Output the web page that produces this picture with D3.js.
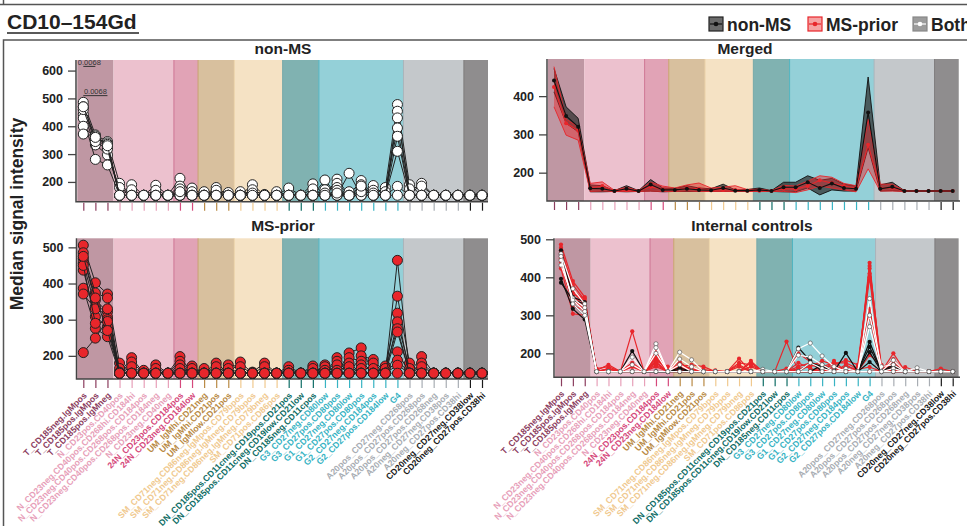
<!DOCTYPE html>
<html><head><meta charset="utf-8">
<script src="https://cdn.jsdelivr.net/npm/d3@7"></script>
<style>body{margin:0;background:#fff;} svg{display:block;font-family:"Liberation Sans",Arial,sans-serif;}</style>
</head><body><svg id="c" width="967" height="526"></svg>
<script>
// ---------------- DATA ----------------
const categories = [
 "T_CD185neg.IgMpos","T_CD185pos.IgMpos","T_CD185pos.IgMneg",
 "N_CD23pos.CD40pos","N_CD23neg.CD40pos.CD268hi.CD184hi","N_CD23neg.CD40pos.CD268pos.CD184pos","N_CD23neg.CD40pos.CD268pos.CD184neg","N_CD23neg.CD40neg",
 "24N_CD23pos.CD184pos","24N_CD23neg.CD184low",
 "UM_IgMhi.CD21neg","UM_IgMhi.CD21pos","UM_IgMlow.CD21pos",
 "SM_CD71neg.CD86neg.IgMpos.CD79bpos","SM_CD71neg.CD86neg.IgMneg.CD79bpos","SM_CD71neg.CD86neg.IgMneg.CD79bneg","SM_CD71pos.CD86pos",
 "DN_CD185pos.CD11cneg.CD19pos.CD21pos","DN_CD185pos.CD11cneg.CD19low.CD21low","DN_CD185neg.CD11cpos",
 "G3_CD27neg.CD80low","G3_CD27pos.CD80pos","G1_CD27neg.CD80low","G1_CD27pos.CD80pos","G2_CD27neg.CD184pos","G2_CD27pos.CD184low","G4",
 "A20pos_CD27neg.CD268pos","A20pos_CD27pos.CD268pos","A20pos_CD27pos.CD268neg","A20neg_CD27neg.CD38pos","A20neg_CD27pos.CD38hi",
 "CD20neg_CD27neg.CD38low","CD20neg_CD27pos.CD38hi"];
const groupNames = ["T","N","24N","UM","SM","DN","G","A20","CD20neg"];
const groupSizes = [3,5,2,3,4,3,7,5,2];

const nonMSSamples = [
 [486,369,345,195,152,152,152,152,213,152,165,152,152,165,152,152,152,178,152,193,152,210,152,205,152,180,478,190,152,152,152,152,152,152],
 [470,352,327,152,190,152,152,152,152,178,152,180,152,152,152,155,165,152,152,152,207,152,231,152,187,152,454,152,195,152,152,152,152,152],
 [443,333,297,180,152,152,188,152,185,152,152,152,162,152,190,152,152,152,152,175,152,195,152,175,152,152,430,175,185,152,152,152,152,152],
 [429,281,261,152,172,152,152,152,152,165,152,152,152,152,152,152,152,152,152,152,172,180,152,152,170,165,394,152,152,152,152,152,152,152],
 [400,358,340,152,152,152,170,152,175,152,152,170,152,152,172,152,152,152,152,152,152,152,165,190,152,152,364,152,152,152,152,152,152,152],
 [372,365,335,152,152,152,152,152,152,152,152,152,152,152,152,152,152,152,152,152,152,170,152,152,152,152,310,152,152,152,152,152,152,152],
 [460,345,318,152,152,152,152,152,152,152,152,152,152,152,160,152,152,152,152,152,160,152,152,165,160,152,184,152,152,152,152,152,152,152],
 [470,360,330,152,152,152,152,152,165,152,152,152,152,152,152,152,152,152,152,152,152,160,152,185,152,152,152,152,152,152,152,152,152,152]];

const msPriorSamples = [
 [506,402,371,180,152,152,175,152,198,152,165,152,152,183,152,152,152,170,152,152,175,152,208,222,152,152,464,152,198,152,152,152,152,152],
 [485,374,360,152,195,152,152,152,152,172,152,180,152,152,155,180,152,152,152,172,152,195,152,200,190,152,365,180,152,152,152,152,152,152],
 [469,354,322,165,152,160,152,152,185,152,152,152,175,170,152,152,152,160,152,152,170,152,195,185,152,172,318,152,180,152,152,152,152,152],
 [456,336,308,152,183,152,165,152,152,165,152,170,152,152,152,170,152,152,152,165,152,185,152,175,180,152,294,165,152,152,152,152,152,152],
 [437,308,281,155,152,152,152,152,175,152,152,152,165,152,152,152,152,152,152,152,160,152,180,152,152,165,275,152,170,152,152,152,152,152],
 [387,276,253,152,170,152,152,152,165,152,152,152,152,152,152,152,152,152,152,152,152,175,152,165,165,152,266,152,152,152,152,152,152,152],
 [371,330,330,152,152,152,152,152,152,152,152,152,152,152,152,152,152,152,152,152,152,160,170,152,152,152,211,152,152,152,152,152,152,152],
 [209,249,300,152,152,152,152,152,152,152,152,152,152,152,152,152,152,152,152,152,152,152,152,152,152,152,188,152,152,152,152,152,152,152],
 [450,290,295,152,152,152,152,152,152,152,152,152,152,152,152,152,152,152,152,152,152,152,152,152,152,152,174,152,152,152,152,152,152,152],
 [475,360,270,152,152,152,152,152,152,152,152,152,152,152,152,152,152,152,152,152,152,152,152,152,152,152,152,152,152,152,152,152,152,152]];

const mergedNonMSMean = [441,348,320,159,158,152,158,152,169,155,155,158,155,154,160,153,153,155,152,162,162,175,160,172,160,158,357,158,163,152,152,152,152,152];
const mergedNonMSLow  = [411,329,307,150,150,151,150,151,152,150,151,151,151,151,151,151,151,151,151,150,150,160,142,155,152,152,265,152,153,151,151,151,151,151];
const mergedNonMSHigh = [472,372,342,168,166,153,166,153,182,160,159,166,160,158,170,155,156,160,153,175,175,192,180,185,170,165,450,168,175,153,153,153,153,153];
const mergedMSMean = [424,329,310,160,165,152,155,152,163,157,155,160,158,154,155,155,153,153,152,158,157,165,180,173,165,160,273,160,160,152,152,152,152,152];
const mergedMSLow  = [372,298,285,151,152,151,151,151,152,151,151,152,151,151,151,151,151,151,151,151,148,155,165,160,155,150,210,152,152,151,151,151,151,151];
const mergedMSHigh = [477,340,320,172,176,154,162,153,175,165,160,168,173,160,162,166,156,157,153,167,165,178,192,188,172,166,340,170,170,153,153,153,153,153];

const controlsMSPrior = [
 [486,390,348,152,152,152,258,152,175,152,152,152,152,152,152,152,152,152,152,152,152,152,152,152,152,152,438,152,152,152,152,152,152,152],
 [445,326,313,155,170,152,165,152,200,160,178,152,152,152,152,186,152,152,152,231,152,152,165,152,152,152,430,152,200,152,152,152,152,152],
 [423,304,300,152,160,152,152,152,190,152,165,170,165,152,152,152,180,152,152,152,200,178,152,180,152,152,423,165,152,164,152,152,152,152],
 [470,380,340,152,152,152,175,152,185,158,152,152,152,155,152,170,152,152,152,152,160,165,180,170,182,170,410,152,175,152,152,152,160,152],
 [455,360,330,160,165,152,152,152,178,152,170,160,152,152,152,152,175,152,152,152,152,152,165,175,175,160,400,152,165,152,152,152,152,152],
 [440,345,313,152,152,152,165,152,170,152,160,152,158,152,152,165,152,152,152,152,175,160,152,165,152,165,317,160,152,152,152,152,152,152],
 [478,370,335,152,158,152,152,152,205,152,152,165,152,152,152,152,165,152,152,152,152,170,160,152,170,152,296,152,185,152,152,152,152,152],
 [430,335,320,152,152,152,152,152,165,152,175,152,152,152,152,152,152,152,152,160,152,152,152,160,160,152,195,170,160,152,152,152,152,152],
 [462,355,345,152,160,152,170,152,195,152,165,152,152,152,152,175,170,152,152,152,165,175,170,152,165,158,164,152,170,152,152,152,152,152],
 [450,350,325,152,152,152,152,152,180,165,152,158,152,152,152,152,152,152,152,152,152,152,158,170,152,152,152,155,152,152,152,152,152,152]];
const controlsNonMS = [
 [471,348,335,152,152,152,206,152,152,152,162,152,152,152,152,152,152,152,152,152,215,180,152,152,201,152,230,152,170,152,152,152,152,152],
 [396,317,289,152,152,152,152,152,152,152,152,152,152,152,152,152,152,152,152,152,152,175,165,152,152,152,217,152,165,152,152,152,152,152],
 [386,340,330,152,152,152,152,152,152,152,158,152,152,152,152,152,152,152,152,152,152,152,170,152,152,152,203,152,152,152,152,152,152,152],
 [460,330,300,152,152,152,152,152,152,152,152,152,152,152,152,152,152,152,152,152,152,152,152,152,152,152,177,152,152,152,152,152,152,152]];
const controlsBoth = [
 [462,370,330,152,152,152,190,152,225,152,203,183,152,152,152,152,152,158,152,152,212,227,193,165,152,152,344,152,182,152,162,152,152,152],
 [432,345,320,152,152,152,170,152,215,152,185,165,152,152,152,152,152,152,152,152,195,190,170,152,160,152,300,165,170,152,152,152,152,152],
 [445,340,310,152,152,152,152,152,200,152,170,152,152,152,152,152,152,152,152,152,152,175,160,152,152,152,270,152,160,152,152,152,152,152],
 [455,330,300,152,152,152,152,152,152,152,152,152,152,152,152,152,152,152,152,152,152,152,152,152,152,152,152,152,152,152,152,152,152,152]];

const sigPairs = [[0,1],[0,2]];
const sigLabels = ["0.0068","0.0068"];
const sigValues = [615,510];

const yTicksNonMS = [200,300,400,500,600];
const yTicksMerged = [200,300,400];
const yTicksMS = [200,300,400,500];
const yTicksControls = [200,300,400,500];

const chartTitle = "CD10\u2013154Gd";
const legendLabels = ["non-MS","MS-prior","Both"];
const panelTitles = ["non-MS","Merged","MS-prior","Internal controls"];
const yAxisTitle = "Median signal intensity";

// ---------------- STYLE ----------------
const bandFill = {T:"#bf97a3",N:"#ecc1ce","24N":"#e1a3b6",UM:"#d8c09e",SM:"#f5e2c4",DN:"#80b2b1",G:"#94d0d8",A20:"#c4c8cb",CD20neg:"#8f8d8e"};
const bandEdge = {T:"none",N:"none","24N":"#cf7594",UM:"#c9a06e",SM:"#ecd3a8",DN:"#76a8a7",G:"#4fb3bf",A20:"#a9b3b9",CD20neg:"#7d7b7c"};
const labelColor = {T:"#8b3d5e",N:"#e7a0b9","24N":"#d5497c",UM:"#b98a45",SM:"#f0c98f",DN:"#0f6d66",G:"#38b3c3",A20:"#a8adb3",CD20neg:"#1a1a1a"};
const RED = "#e8262b";

const svg = d3.select("#c");
const catGroup = [];
groupNames.forEach((g,i)=>{ for(let k=0;k<groupSizes[i];k++) catGroup.push(g); });

// frames
svg.append("line").attr("x1",0).attr("x2",967).attr("y1",4.5).attr("y2",4.5).attr("stroke","#555").attr("stroke-width",1.5);
svg.append("line").attr("x1",3.5).attr("x2",3.5).attr("y1",0).attr("y2",4.5).attr("stroke","#555").attr("stroke-width",1.5);
svg.append("path").attr("d","M3.5,530 L3.5,40 L970,40").attr("fill","none").attr("stroke","#555").attr("stroke-width",1.5);

// title
svg.append("text").attr("x",7).attr("y",29).attr("font-size",21).attr("font-weight","bold").attr("fill","#222").text(chartTitle);
svg.append("line").attr("x1",7).attr("x2",139).attr("y1",33).attr("y2",33).attr("stroke","#222").attr("stroke-width",1.6);

// legend
const legX = [709,808,913];
const legFill = ["#6b6b6b","#f5a3a3","#9c9c9c"];
const legStroke = ["#222",RED,"#888"];
const legMark = ["#111",RED,"#fff"];
legendLabels.forEach((l,i)=>{
  const g = svg.append("g");
  g.append("rect").attr("x",legX[i]).attr("y",17).attr("width",14).attr("height",14).attr("fill",legFill[i]).attr("stroke",legStroke[i]).attr("stroke-width",1.2);
  g.append("line").attr("x1",legX[i]+1).attr("x2",legX[i]+13).attr("y1",24).attr("y2",24).attr("stroke",legMark[i]).attr("stroke-width",1.2);
  g.append("circle").attr("cx",legX[i]+7).attr("cy",24).attr("r",2.3).attr("fill",legMark[i]);
  g.append("text").attr("x",legX[i]+18).attr("y",30.5).attr("font-size",17.5).attr("font-weight","bold").attr("fill","#222").text(l);
});

// y axis title
svg.append("text").attr("transform","translate(23,214) rotate(-90)").attr("text-anchor","middle")
  .attr("font-size",17.5).attr("font-weight","bold").attr("fill","#222").text(yAxisTitle);

const panels = [
 {title:panelTitles[0], tx:283, ty:54, x0:76, x1:488, y0:60, y1:201.7, t0:83.3, t1:482, dom:[129,638], ticks:yTicksNonMS, labels:false},
 {title:panelTitles[1], tx:745, ty:54, x0:547, x1:960, y0:59, y1:201, t0:554, t1:952.7, dom:[126,497], ticks:yTicksMerged, labels:false},
 {title:panelTitles[2], tx:283, ty:231, x0:76.5, x1:488, y0:238.3, y1:379, t0:83.3, t1:482, dom:[136,525], ticks:yTicksMS, labels:true},
 {title:panelTitles[3], tx:752, ty:231, x0:554, x1:960, y0:238.3, y1:377.3, t0:561, t1:952.7, dom:[137,502.6], ticks:yTicksControls, labels:true}
];

function drawFrame(p){
  const g = svg.append("g");
  const x = d3.scalePoint().domain(categories).range([p.t0,p.t1]);
  const step = x.step();
  const y = d3.scaleLinear().domain(p.dom).range([p.y1,p.y0]);
  let idx = 0;
  groupNames.forEach((gn,i)=>{
    const a = categories[idx], b = categories[idx+groupSizes[i]-1];
    const L = Math.max(p.x0, x(a)-step/2), R = Math.min(p.x1, x(b)+step/2);
    g.append("rect").attr("x",L).attr("y",p.y0).attr("width",R-L).attr("height",p.y1-p.y0).attr("fill",bandFill[gn]);
    if(i>0) g.append("line").attr("x1",L).attr("x2",L).attr("y1",p.y0).attr("y2",p.y1).attr("stroke",bandEdge[gn]).attr("stroke-width",1);
    idx += groupSizes[i];
  });
  svg.append("text").attr("x",p.tx).attr("y",p.ty).attr("text-anchor","middle").attr("font-size",15.5).attr("font-weight","bold").attr("fill","#222").text(p.title);
  const ya = svg.append("g").attr("transform",`translate(${p.x0},0)`)
    .call(d3.axisLeft(y).tickValues(p.ticks).tickSize(8).tickPadding(5));
  ya.select(".domain").remove();
  ya.selectAll(".tick line").attr("stroke","#444").attr("stroke-width",1.3);
  ya.selectAll(".tick text").attr("font-size",12.5).attr("font-weight","bold").attr("fill","#222").attr("font-family","Liberation Sans, Arial, sans-serif");
  svg.append("path").attr("d",`M${p.x0},${p.y0} L${p.x0},${p.y1} L${p.x1},${p.y1}`).attr("fill","none").attr("stroke","#444").attr("stroke-width",1.5);
  const xa = svg.append("g").attr("transform",`translate(0,${p.y1+1})`)
    .call(d3.axisBottom(x).tickSize(8).tickFormat(""));
  xa.select(".domain").remove();
  xa.selectAll(".tick line").attr("stroke",(d,i)=>labelColor[catGroup[i]]).attr("stroke-width",1.2);
  if(p.labels){
    svg.append("g").selectAll("text").data(categories).join("text")
      .attr("transform",d=>`translate(${x(d)+4},${p.y1+17}) rotate(-45)`)
      .attr("text-anchor","end").attr("font-size",8.7).attr("font-weight","bold")
      .attr("fill",(d,i)=>labelColor[catGroup[i]]).text(d=>d);
  }
  return {x,y};
}

// panel 1: non-MS
(function(){
  const p = panels[0]; const {x,y} = drawFrame(p);
  const g = svg.append("g");
  const line = d3.line().x((d,i)=>x(categories[i])).y(d=>y(d));
  nonMSSamples.forEach(s=>{
    g.append("path").attr("d",line(s)).attr("fill","none").attr("stroke","#222").attr("stroke-width",1);
    g.selectAll(null).data(s).join("circle").attr("cx",(d,i)=>x(categories[i])).attr("cy",d=>y(d)).attr("r",5)
      .attr("fill","#fff").attr("stroke","#222").attr("stroke-width",1);
  });
  sigPairs.forEach((pr,k)=>{
    const xa = x(categories[pr[0]]), xb = x(categories[pr[1]]), yy = y(sigValues[k]);
    svg.append("line").attr("x1",xa).attr("x2",xb).attr("y1",yy).attr("y2",yy).attr("stroke","#333").attr("stroke-width",1);
    svg.append("text").attr("x",(xa+xb)/2).attr("y",yy-1.5).attr("text-anchor","middle").attr("font-size",7.5).attr("fill","#333").text(sigLabels[k]);
  });
})();

// panel 2: Merged
(function(){
  const p = panels[1]; const {x,y} = drawFrame(p);
  const g = svg.append("g");
  const xi = i=>x(categories[i]);
  const area = (lo,hi)=>d3.area().x((d,i)=>xi(i)).y0((d,i)=>y(lo[i])).y1((d,i)=>y(hi[i]))(lo);
  const line = d3.line().x((d,i)=>xi(i)).y(d=>y(d));
  g.append("path").attr("d",area(mergedNonMSLow,mergedNonMSHigh)).attr("fill","#2e2e2e").attr("fill-opacity",0.72);
  g.append("path").attr("d",line(mergedNonMSLow)).attr("fill","none").attr("stroke","#111").attr("stroke-width",0.9);
  g.append("path").attr("d",line(mergedNonMSHigh)).attr("fill","none").attr("stroke","#111").attr("stroke-width",0.9);
  g.append("path").attr("d",area(mergedMSLow,mergedMSHigh)).attr("fill",RED).attr("fill-opacity",0.45);
  g.append("path").attr("d",line(mergedMSLow)).attr("fill","none").attr("stroke",RED).attr("stroke-width",0.9);
  g.append("path").attr("d",line(mergedMSHigh)).attr("fill","none").attr("stroke",RED).attr("stroke-width",0.9);
  g.append("path").attr("d",line(mergedMSMean)).attr("fill","none").attr("stroke",RED).attr("stroke-width",1.1);
  g.selectAll(null).data(mergedMSMean).join("circle").attr("cx",(d,i)=>xi(i)).attr("cy",d=>y(d)).attr("r",2).attr("fill",RED);
  g.append("path").attr("d",line(mergedNonMSMean)).attr("fill","none").attr("stroke","#111").attr("stroke-width",1.1);
  g.selectAll(null).data(mergedNonMSMean).join("circle").attr("cx",(d,i)=>xi(i)).attr("cy",d=>y(d)).attr("r",2).attr("fill","#111");
})();

// panel 3: MS-prior
(function(){
  const p = panels[2]; const {x,y} = drawFrame(p);
  const g = svg.append("g");
  const line = d3.line().x((d,i)=>x(categories[i])).y(d=>y(d));
  msPriorSamples.forEach(s=>{
    g.append("path").attr("d",line(s)).attr("fill","none").attr("stroke","#222").attr("stroke-width",1);
    g.selectAll(null).data(s).join("circle").attr("cx",(d,i)=>x(categories[i])).attr("cy",d=>y(d)).attr("r",5)
      .attr("fill",RED).attr("stroke","#222").attr("stroke-width",1);
  });
})();

// panel 4: Internal controls
(function(){
  const p = panels[3]; const {x,y} = drawFrame(p);
  const g = svg.append("g");
  const line = d3.line().x((d,i)=>x(categories[i])).y(d=>y(d));
  const drawSet = (set,col,stroke)=>set.forEach(s=>{
    g.append("path").attr("d",line(s)).attr("fill","none").attr("stroke",col).attr("stroke-width",1.2);
    g.selectAll(null).data(s).join("circle").attr("cx",(d,i)=>x(categories[i])).attr("cy",d=>y(d)).attr("r",2.1)
      .attr("fill",col).attr("stroke",stroke).attr("stroke-width",stroke==="none"?0:0.6);
  });
  drawSet(controlsMSPrior,RED,"none");
  drawSet(controlsNonMS,"#111","none");
  drawSet(controlsBoth,"#fff","#444");
})();
</script></body></html>
